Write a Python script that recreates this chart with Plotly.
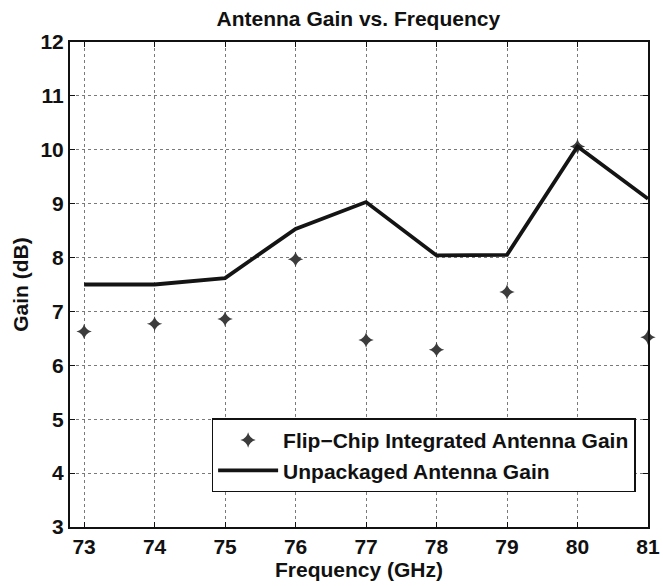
import plotly.graph_objects as go

# Frequency sweep (GHz) and measured gains (dB)
freq_ghz = [73, 74, 75, 76, 77, 78, 79, 80, 81]
flip_chip_gain = [6.63, 6.77, 6.86, 7.97, 6.47, 6.29, 7.36, 10.06, 6.52]
unpackaged_gain = [7.50, 7.50, 7.62, 8.53, 9.03, 8.04, 8.05, 10.06, 9.09]

x_ticks = [73, 74, 75, 76, 77, 78, 79, 80, 81]
y_ticks = [3, 4, 5, 6, 7, 8, 9, 10, 11, 12]

FONT = "Liberation Sans, Arial, Helvetica, sans-serif"

fig = go.Figure()

fig.add_trace(go.Scatter(
    x=freq_ghz, y=flip_chip_gain,
    mode="markers",
    name="Flip\u2212Chip Integrated Antenna Gain",
    marker=dict(symbol="star-diamond", size=11, color="#3c3c3c",
                line=dict(width=0)),
    cliponaxis=False,
))

fig.add_trace(go.Scatter(
    x=freq_ghz, y=unpackaged_gain,
    mode="lines",
    name="Unpackaged Antenna Gain",
    line=dict(color="#141414", width=3.8),
    cliponaxis=False,
))

axis_common = dict(
    showline=True, linecolor="#111", linewidth=2, mirror="ticks",
    ticks="inside", ticklen=5, tickwidth=1.2, tickcolor="#111",
    showgrid=True, gridcolor="#7a7a7a", gridwidth=1, griddash="dot",
    zeroline=False, automargin=False,
    tickfont=dict(family=FONT, size=21, color="#111"),
)

fig.update_layout(
    width=663, height=586,
    paper_bgcolor="white", plot_bgcolor="white",
    margin=dict(l=70, r=15, t=42, b=59),
    title=dict(
        text="<b>Antenna Gain vs. Frequency</b>",
        x=0.5405, xanchor="center", y=0.969, yanchor="middle",
        font=dict(family=FONT, size=21, color="#111"),
    ),
    xaxis=dict(
        range=[72.8, 81], tickvals=x_ticks,
        ticktext=[f"<b>{v}</b>" for v in x_ticks],
        title=dict(text="<b>Frequency (GHz)</b>", standoff=2,
                   font=dict(family=FONT, size=21, color="#111")),
        **axis_common,
    ),
    yaxis=dict(
        range=[3, 12], tickvals=y_ticks,
        ticktext=[f"<b>{v}</b>" for v in y_ticks],
        title=dict(text="<b>Gain (dB)</b>", standoff=6,
                   font=dict(family=FONT, size=21, color="#111")),
        **axis_common,
    ),
    legend=dict(
        x=0.245, y=0.224, xanchor="left", yanchor="top",
        bgcolor="white", bordercolor="#111", borderwidth=1.5,
        font=dict(family=FONT, size=21, color="#111"),
        itemwidth=60, tracegroupgap=0,
    ),
    showlegend=True,
)

# Bold legend labels
for tr in fig.data:
    tr.name = f"<b>{tr.name}</b>"

fig.write_html("out.html")
